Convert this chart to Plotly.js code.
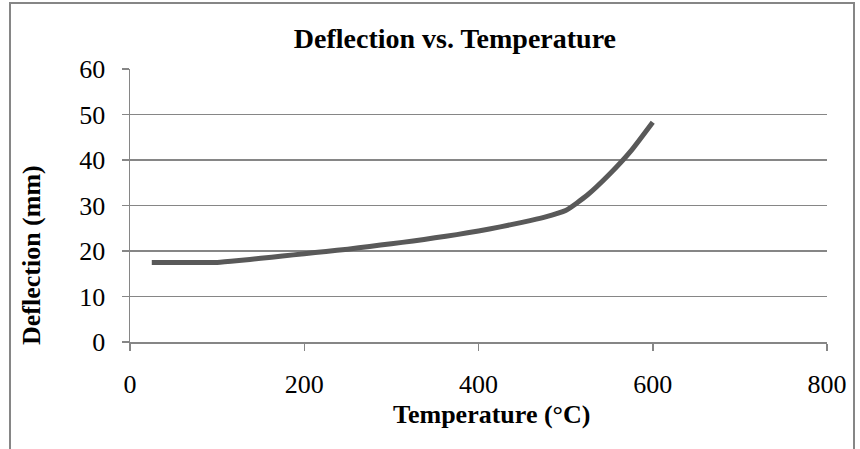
<!DOCTYPE html>
<html>
<head>
<meta charset="utf-8">
<script src="https://cdn.plot.ly/plotly-3.0.1.min.js"></script>
<style>
html,body{margin:0;padding:0;background:#fff;}
#chart{width:860px;height:449px;}
</style>
</head>
<body>
<div id="chart"></div>
<script>
const temperature = [25, 50, 75, 100, 125, 150, 175, 200, 225, 250, 275, 300, 325, 350, 375, 400, 425, 450, 475, 500, 525, 550, 575, 600];
const deflection = [17.5, 17.5, 17.5, 17.5, 17.9, 18.4, 18.9, 19.4, 19.9, 20.4, 21.0, 21.6, 22.2, 22.9, 23.6, 24.4, 25.3, 26.3, 27.4, 28.9, 32.3, 36.8, 42.0, 48.3];
const xTicks = [0, 200, 400, 600, 800];
const yTicks = [0, 10, 20, 30, 40, 50, 60];
const chartTitle = "Deflection vs. Temperature";
const xTitle = "Temperature (°C)";
const yTitle = "Deflection (mm)";

const serif = "Liberation Serif, Times New Roman, serif";
const gray = "#868686";

const trace = {
  x: temperature, y: deflection, type: "scatter", mode: "lines",
  line: {color: "#595959", width: 5, shape: "spline", smoothing: 0.5},
  hoverinfo: "x+y"
};

const layout = {
  width: 860, height: 449,
  margin: {l: 130, r: 33, t: 69, b: 107},
  paper_bgcolor: "#fff", plot_bgcolor: "#fff",
  showlegend: false,
  font: {family: serif, color: "#000", size: 26},
  title: {text: "<b>" + chartTitle + "</b>", font: {family: serif, size: 28, color: "#000"},
          xref: "container", yref: "container", x: 0.529, y: 0.916, xanchor: "center", yanchor: "middle"},
  xaxis: {
    range: [0, 800], tickvals: xTicks, ticktext: xTicks.map(String),
    showgrid: false, zeroline: false, showline: true, linecolor: gray, linewidth: 1.5,
    ticks: "outside", ticklen: 7, tickcolor: gray, tickwidth: 1.5,
    tickfont: {family: serif, size: 26, color: "#000"}, ticklabelstandoff: 11
  },
  yaxis: {
    range: [0, 60], tickvals: yTicks, ticktext: yTicks.map(String),
    showgrid: true, gridcolor: gray, gridwidth: 1.5, zeroline: false,
    showline: true, linecolor: gray, linewidth: 1.5,
    ticks: "outside", ticklen: 7, tickcolor: gray, tickwidth: 1.5,
    tickfont: {family: serif, size: 26, color: "#000"}, ticklabelstandoff: 11
  },
  annotations: [
    {text: "<b>" + xTitle + "</b>", xref: "paper", yref: "paper", x: (491-130)/697, y: (342-414)/273,
     xanchor: "center", yanchor: "middle", showarrow: false, font: {family: serif, size: 26, color: "#000"}},
    {text: "<b>" + yTitle + "</b>", xref: "paper", yref: "paper", x: (31-130)/697, y: (342-255)/273,
     xanchor: "center", yanchor: "middle", showarrow: false, textangle: -90, font: {family: serif, size: 26, color: "#000"}}
  ],
  shapes: [
    {type: "rect", xref: "paper", yref: "paper",
     x0: (10-130)/697, x1: (854-130)/697, y0: (342-470)/273, y1: (342-3)/273,
     line: {color: gray, width: 2}, fillcolor: "rgba(0,0,0,0)", layer: "below"}
  ]
};

Plotly.newPlot("chart", [trace], layout, {staticPlot: true, displayModeBar: false});
</script>
</body>
</html>
